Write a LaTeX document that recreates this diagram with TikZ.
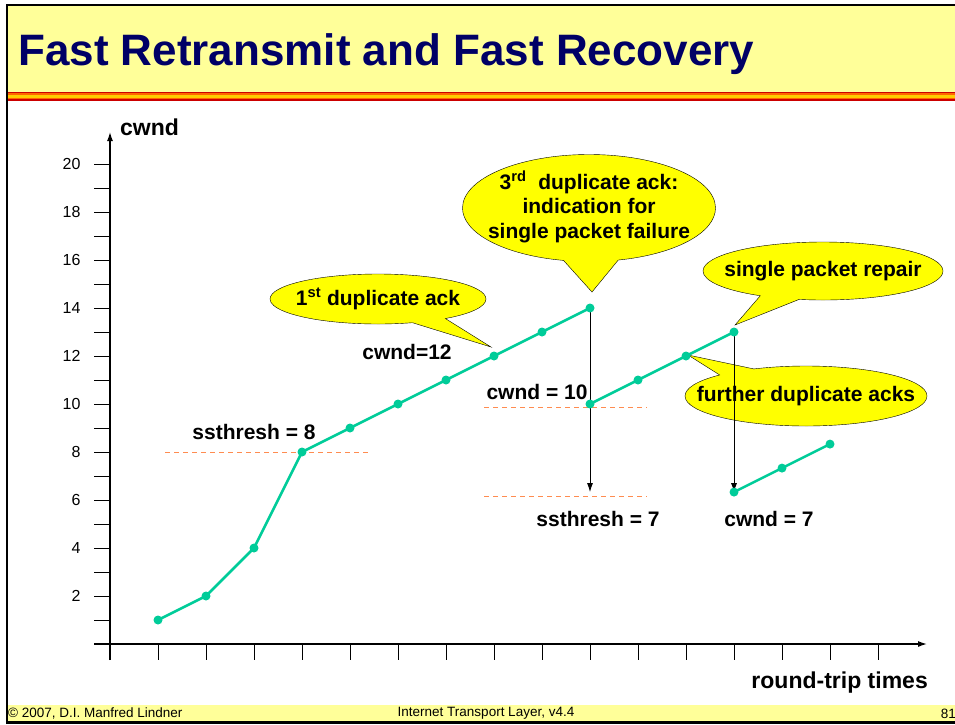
\documentclass[tikz,border=0pt]{standalone}
\usepackage{fontspec}
\setmainfont{Liberation Sans}
\usetikzlibrary{shapes.callouts,arrows.meta}

\definecolor{titlebg}{RGB}{255,255,153}
\definecolor{titleblue}{RGB}{0,0,102}
\definecolor{curvegreen}{RGB}{0,204,153}
\definecolor{threshorange}{RGB}{255,140,80}
\definecolor{bubbleyellow}{RGB}{255,255,0}
\definecolor{stripered}{RGB}{204,0,0}
\definecolor{stripeorange}{RGB}{255,102,0}
\definecolor{stripeyellow}{RGB}{255,204,0}

\newcommand{\pxfont}[1]{\fontsize{#1}{#1}\selectfont}
\newcommand{\nowidth}[1]{\makebox[0pt]{#1}}

\begin{document}
\begin{tikzpicture}[x=1pt,y=-1pt,
  lbl/.style={font=\pxfont{21}\bfseries},
  axislbl/.style={font=\pxfont{23}\bfseries,inner sep=0pt},
  ticklbl/.style={font=\pxfont{16},anchor=east},
  foot/.style={font=\pxfont{13.5},inner sep=0pt},
  curveline/.style={curvegreen,line width=2.5pt,line join=round},
  threshline/.style={threshorange,line width=0.9pt,dash pattern=on 5pt off 4pt},
  dropline/.style={-{Latex[length=9pt,width=6pt]},line width=0.8pt},
  axisline/.style={line width=1.3pt,-{Latex[length=9pt,width=6pt]}},
  bubble/.style={ellipse callout,draw=black,fill=bubbleyellow,inner sep=0pt,
    font=\pxfont{21}\bfseries,callout pointer arc=20}]
  \useasboundingbox (0,0) rectangle (955,724);

  % Slide frame
  \fill[white] (0,0) rectangle (955,724);
  \fill[titlebg] (7,5) rectangle (960,92);
  \fill[stripered] (7,92) rectangle (960,101);
  \fill[stripeorange] (7,93.3) rectangle (960,99.4);
  \fill[stripeyellow] (7,95) rectangle (960,97.6);
  \fill[titlebg] (7,705) rectangle (960,722);
  \draw[line width=2.5pt] (7,5) rectangle (962,722.5);

  % Title
  \node[anchor=base west,inner sep=0pt,text=titleblue,font=\pxfont{44}\bfseries] (title) at (18,65)
    {Fast Retransmit and Fast Recovery};

  % Footer
  \node[foot,anchor=west] (copy) at (8,713.5) {\textcopyright{} 2007, D.I. Manfred Lindner};
  \node[foot] (course) at (486,713.5) {Internet Transport Layer, v4.4};
  \node[foot,anchor=east] (page) at (956,713.5) {81};

  % Axes
  \draw[axisline] (110,660) -- (110,132);
  \draw[axisline] (94,644) -- (927,644);
  \foreach \k in {1,...,20}
    \draw[line width=1pt] (94,{644-24*\k}) -- (110,{644-24*\k});
  \foreach \r in {1,...,16}
    \draw[line width=1pt] ({110+48*\r},644) -- ({110+48*\r},660);
  \foreach \k in {2,4,...,20}
    \node[ticklbl] (y\k) at (84,{644-24*\k}) {\k};
  \node[axislbl,anchor=base west] (ylabel) at (120,135) {cwnd};
  \node[axislbl,anchor=base east] (xlabel) at (928,688) {round-trip times};

  % Data points
  \foreach \r/\v in {1/1,2/2,3/4,4/8,5/9,6/10,7/11,8/12,9/13,10/14}
    \coordinate (a\r) at ({110+48*\r},{644-24*\v});
  \foreach \r/\v in {10/10,11/11,12/12,13/13}
    \coordinate (b\r) at ({110+48*\r},{644-24*\v});
  \foreach \r/\v in {13/6.33,14/7.33,15/8.33}
    \coordinate (c\r) at ({110+48*\r},{644-24*\v});
  \coordinate (drop) at (590,492);

  % Callout tips
  \coordinate (tipfirst) at (491,347);
  \coordinate (tipthird) at (592,292);
  \coordinate (tiprepair) at (735,325);
  \coordinate (tipfurther) at (688,355);

  % Callouts
  \node[bubble,minimum width=216,minimum height=50,callout absolute pointer={(tipfirst)}] (first) at (378,299)
    {\nowidth{1\textsuperscript{st} duplicate ack}};
  \node[bubble,minimum width=253,minimum height=107,callout pointer arc=25,callout absolute pointer={(tipthird)}] (third) at (589,208)
    {\nowidth{\begin{tabular}{@{}c@{}}\pxfont{21}\bfseries 3\textsuperscript{rd}\ \ duplicate ack:\\[3pt]
      \bfseries indication for\\[3pt] \bfseries single packet failure\end{tabular}}};
  \node[bubble,minimum width=240,minimum height=58,callout absolute pointer={(tiprepair)}] (repair) at (823,271)
    {\nowidth{single packet repair}};
  \node[bubble,minimum width=242,minimum height=60,callout absolute pointer={(tipfurther)}] (further) at (806,396)
    {\nowidth{further duplicate acks}};

  % Thresholds
  \draw[threshline] (165,452) -- (368,452);
  \draw[threshline] (484,407) -- (647,407);
  \draw[threshline] (484,496) -- (647,496);

  % Window drops
  \draw[dropline] (a10) -- (drop);
  \draw[dropline] (b13) -- (c13);

  % cwnd curve
  \draw[curveline] (a1) \foreach \r in {2,...,10} {-- (a\r)};
  \draw[curveline] (b10) \foreach \r in {11,12,13} {-- (b\r)};
  \draw[curveline] (c13) \foreach \r in {14,15} {-- (c\r)};
  \foreach \r in {1,...,10} \fill[curvegreen] (a\r) circle (4.5);
  \foreach \r in {10,...,13} \fill[curvegreen] (b\r) circle (4.5);
  \foreach \r in {13,14,15} \fill[curvegreen] (c\r) circle (4.5);

  % Labels
  \node[lbl] (ss8) at (254,432) {ssthresh = 8};
  \node[lbl] (cw12) at (407,352) {cwnd=12};
  \node[lbl] (cw10) at (537,392) {cwnd = 10};
  \node[lbl] (ss7) at (598,519) {ssthresh = 7};
  \node[lbl] (cw7) at (769,519) {cwnd = 7};
\end{tikzpicture}
\end{document}
